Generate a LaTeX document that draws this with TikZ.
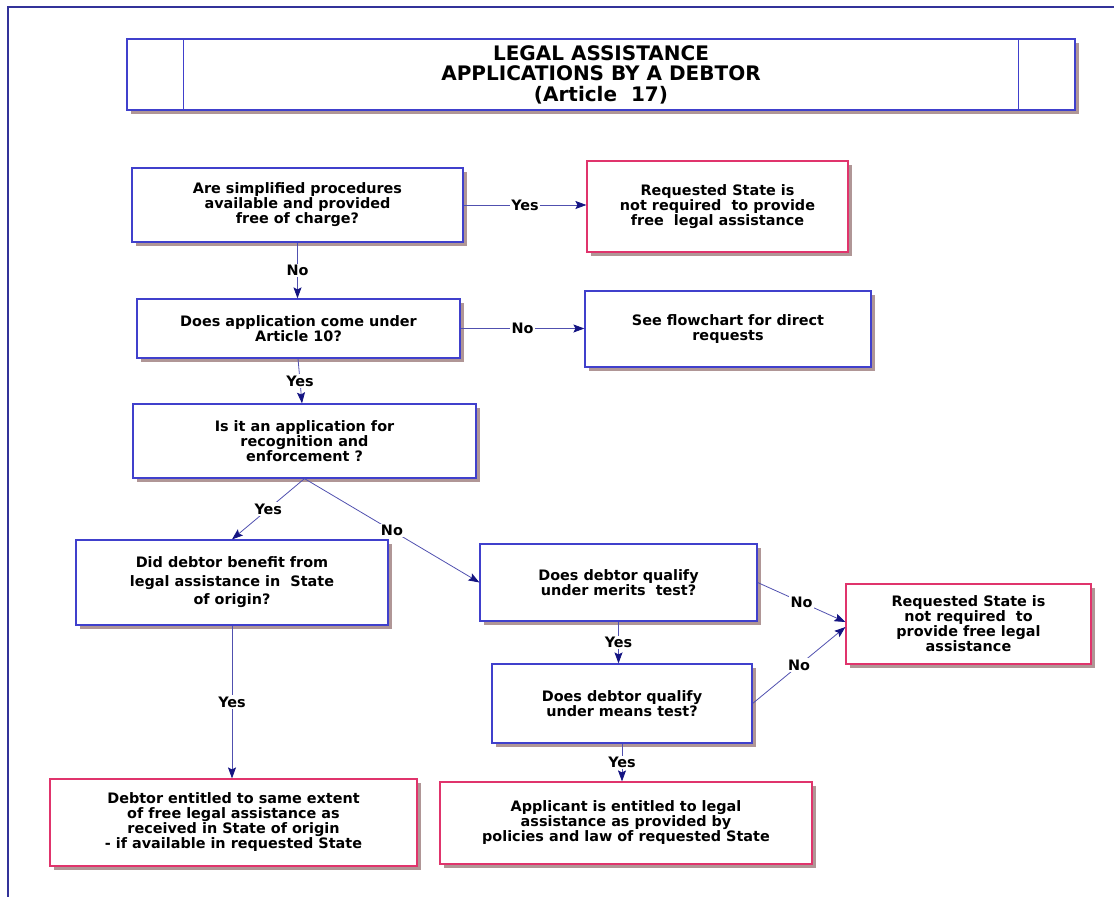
\documentclass[tikz,border=0pt]{standalone}
\usepackage{fontspec}
\setmainfont{DejaVu Sans}
\usetikzlibrary{arrows.meta,shadows,calc}
\definecolor{framec}{RGB}{51,51,153}
\definecolor{boxblue}{RGB}{64,64,204}
\definecolor{boxred}{RGB}{224,52,108}
\definecolor{shadowc}{RGB}{176,150,150}
\definecolor{linec}{RGB}{80,80,175}
\definecolor{tipc}{RGB}{20,20,130}
\tikzset{
  basebox/.style={draw, line width=1.2pt, fill=white, inner sep=0pt, align=center,
    font=\bfseries\fontsize{14.4}{15}\selectfont,
    drop shadow={shadow xshift=3.5pt, shadow yshift=-3.5pt, fill=shadowc, opacity=1}},
  qbox/.style={basebox, draw=boxblue},
  rbox/.style={basebox, draw=boxred},
  conn/.style={draw=linec, line width=0.8pt,
    -{Stealth[length=11pt, width=8pt, inset=2pt, color=tipc]}},
  lbl/.style={fill=white, inner sep=1.5pt, font=\bfseries\fontsize{14.4}{15}\selectfont}
}
\begin{document}
\begin{tikzpicture}[x=1pt, y=-1pt]
\useasboundingbox (0,0) rectangle (1114,897);
% outer frame
\draw[framec, line width=2pt] (8,897) -- (8,7) -- (1114,7);

% heading
\node[qbox, minimum width=948pt, minimum height=71pt,
      font=\bfseries\fontsize{20}{20.5}\selectfont] (title) at (601,74.5)
  {LEGAL ASSISTANCE\\APPLICATIONS BY A DEBTOR\\(Article~ 17)};
\draw[boxblue, line width=1.2pt] ([xshift=57pt]title.north west) -- ([xshift=57pt]title.south west);
\draw[boxblue, line width=1.2pt] ([xshift=-57pt]title.north east) -- ([xshift=-57pt]title.south east);

% decision boxes
\node[qbox, minimum width=331pt, minimum height=74pt] (simpl) at (297.5,205)
  {Are simplified procedures\\available and provided\\free of charge?};
\node[rbox, minimum width=261pt, minimum height=91pt] (notreq1) at (717.5,206.5)
  {Requested State is\\not required~ to provide\\free~ legal assistance};
\node[qbox, minimum width=323pt, minimum height=59pt] (art10) at (298.5,328.5)
  {Does application come under\\Article 10?};
\node[qbox, minimum width=286pt, minimum height=76pt] (direct) at (728,329)
  {See flowchart for direct\\requests};
\node[qbox, minimum width=343pt, minimum height=74pt] (recog) at (304.5,441)
  {Is it an application for\\recognition and\\enforcement ?};
\node[qbox, minimum width=312pt, minimum height=85pt,
      font=\bfseries\fontsize{14.4}{18.5}\selectfont] (benefit) at (232,582.5)
  {Did debtor benefit from\\legal assistance in~ State\\of origin?};
\node[qbox, minimum width=277pt, minimum height=77pt] (merits) at (618.5,582.5)
  {Does debtor qualify\\under merits~ test?};
\node[qbox, minimum width=260pt, minimum height=79pt] (means) at (622,703.5)
  {Does debtor qualify\\under means test?};
\node[rbox, minimum width=245pt, minimum height=80pt] (notreq2) at (968.5,624)
  {Requested State is\\not required~ to\\provide free legal\\assistance};
\node[rbox, minimum width=367pt, minimum height=87pt] (same) at (233.5,822.5)
  {Debtor entitled to same extent\\of free legal assistance as\\received in State of origin\\- if available in requested State};
\node[rbox, minimum width=372pt, minimum height=82pt] (entitled) at (626,823)
  {Applicant is entitled to legal\\assistance as provided by\\policies and law of requested State};

% connectors
\draw[conn] (simpl.east) -- node[lbl] (l1) {Yes} (simpl.east -| notreq1.west);
\draw[conn] (simpl.south) -- node[lbl] (l2) {No} (simpl.south |- art10.north);
\draw[conn] (art10.east) -- node[lbl] (l3) {No} (art10.east -| direct.west);
\draw[conn] ([xshift=-0.5pt]art10.south) -- node[lbl] (l4) {Yes} ([xshift=-2.5pt]recog.north);
\draw[conn] (recog.south) -- node[lbl] (l5) {Yes} (benefit.north);
\draw[conn] (recog.south) -- node[lbl] (l6) {No} (merits.west);
\draw[conn] (benefit.south) -- node[lbl] (l7) {Yes} (benefit.south |- same.north);
\draw[conn] (merits.south) -- node[lbl] (l8) {Yes} (merits.south |- means.north);
\draw[conn] (merits.east) -- node[lbl] (l9) {No} ($(notreq2.west)+(0,-2)$);
\draw[conn] (means.east) -- node[lbl] (l10) {No} ($(notreq2.west)+(0,3)$);
\draw[conn] (means.south) -- node[lbl] (l11) {Yes} (means.south |- entitled.north);
\end{tikzpicture}
\end{document}
